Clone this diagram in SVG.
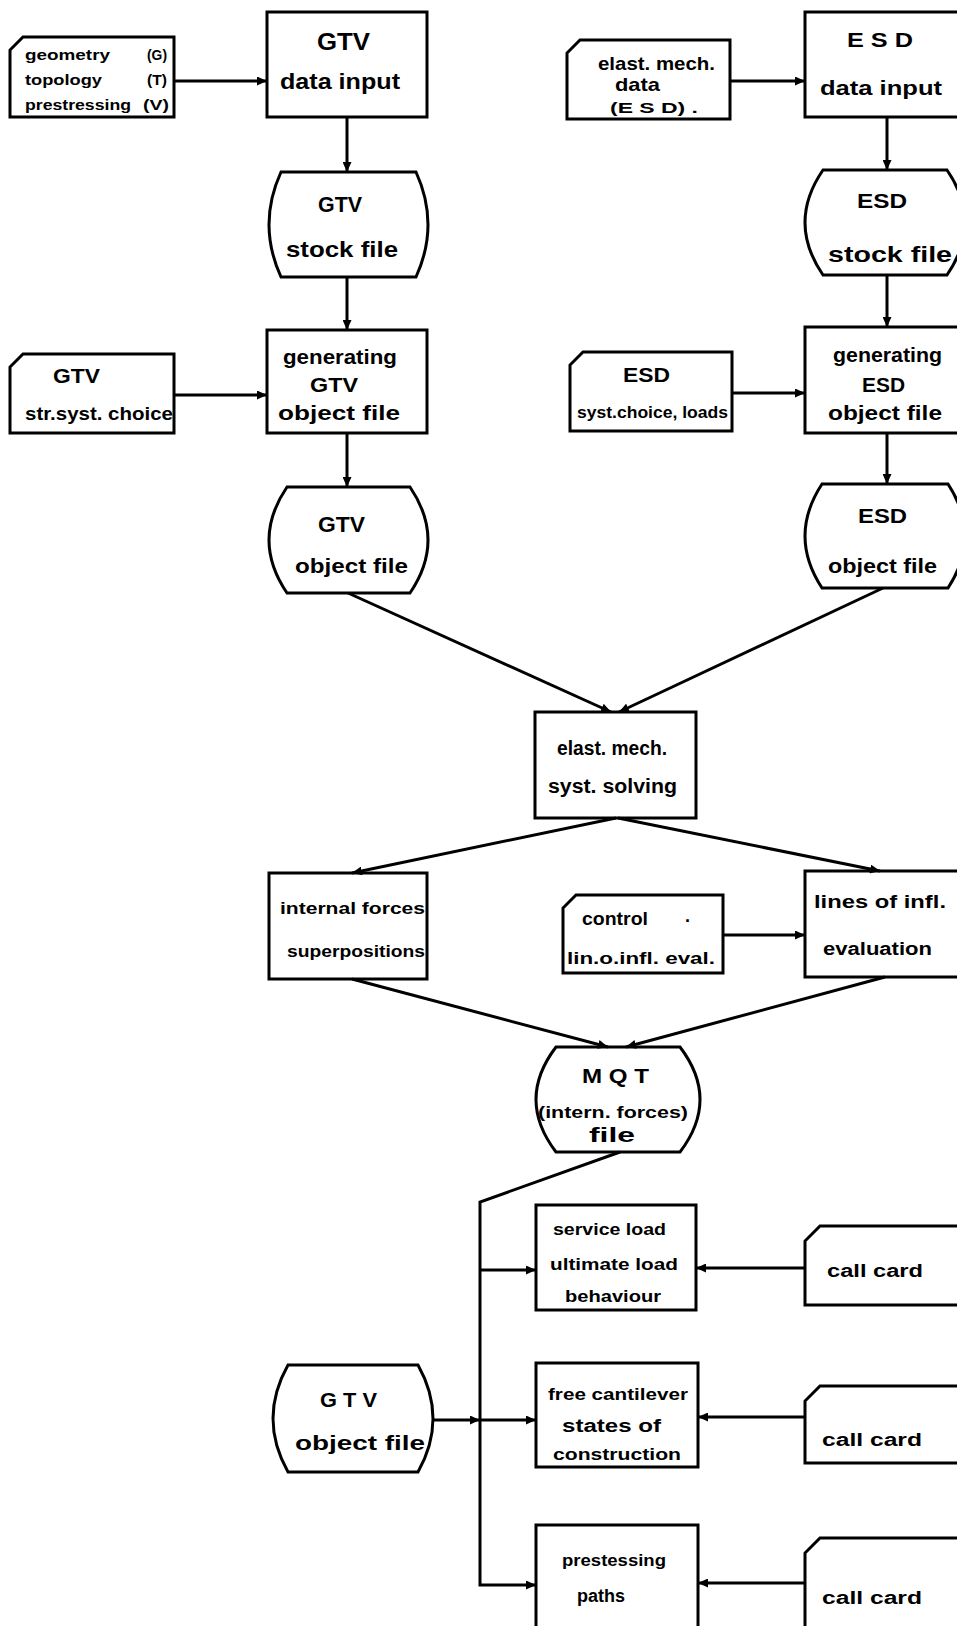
<svg xmlns="http://www.w3.org/2000/svg" width="957" height="1626" viewBox="0 0 957 1626">
<style>
.shape{fill:#fff;stroke:#000;stroke-width:3;stroke-linejoin:miter}
.conn{fill:none;stroke:#000;stroke-width:3}
text{font-family:"Liberation Sans",Arial,sans-serif;font-weight:bold;fill:#000}
</style>
<defs>
<marker id="ah" markerUnits="userSpaceOnUse" markerWidth="11" markerHeight="9" refX="10" refY="4.5" orient="auto">
<path d="M0,0 L10,4.5 L0,9 Z" fill="#000"/>
</marker>
</defs>
<rect width="957" height="1626" fill="#fff"/>

<!-- Left column -->
<g id="gtv-input-card">
<path class="shape" d="M23,37 L174,37 L174,117 L10,117 L10,50 Z"/>
<text x="25" y="60" font-size="15" textLength="85" lengthAdjust="spacingAndGlyphs">geometry</text>
<text x="147" y="60" font-size="15" textLength="20" lengthAdjust="spacingAndGlyphs">(G)</text>
<text x="25" y="85" font-size="15" textLength="77" lengthAdjust="spacingAndGlyphs">topology</text>
<text x="147" y="85" font-size="15" textLength="20" lengthAdjust="spacingAndGlyphs">(T)</text>
<text x="25" y="110" font-size="15" textLength="106" lengthAdjust="spacingAndGlyphs">prestressing</text>
<text x="143" y="110" font-size="15" textLength="26" lengthAdjust="spacingAndGlyphs">(V)</text>
</g>
<g id="gtv-data-input">
<rect class="shape" x="267" y="12" width="160" height="105"/>
<text x="317" y="50" font-size="24" textLength="53" lengthAdjust="spacingAndGlyphs">GTV</text>
<text x="280" y="89" font-size="22" textLength="120" lengthAdjust="spacingAndGlyphs">data input</text>
</g>
<g id="gtv-stock-file">
<path class="shape" d="M281,172 L416,172 Q440,224.5 416,277 L281,277 Q257,224.5 281,172 Z"/>
<text x="318" y="212" font-size="22" textLength="44" lengthAdjust="spacingAndGlyphs">GTV</text>
<text x="286" y="257" font-size="22" textLength="112" lengthAdjust="spacingAndGlyphs">stock file</text>
</g>
<g id="gtv-choice-card">
<path class="shape" d="M23,354 L174,354 L174,433 L10,433 L10,367 Z"/>
<text x="53" y="383" font-size="20" textLength="47" lengthAdjust="spacingAndGlyphs">GTV</text>
<text x="25" y="420" font-size="18" textLength="148" lengthAdjust="spacingAndGlyphs">str.syst. choice</text>
</g>
<g id="gtv-generating">
<rect class="shape" x="267" y="330" width="160" height="103"/>
<text x="283" y="364" font-size="21" textLength="114" lengthAdjust="spacingAndGlyphs">generating</text>
<text x="310" y="392" font-size="21" textLength="48" lengthAdjust="spacingAndGlyphs">GTV</text>
<text x="278" y="420" font-size="21" textLength="122" lengthAdjust="spacingAndGlyphs">object file</text>
</g>
<g id="gtv-object-file">
<path class="shape" d="M287,487 L410,487 Q446,540 410,593 L287,593 Q251,540 287,487 Z"/>
<text x="318" y="532" font-size="22" textLength="47" lengthAdjust="spacingAndGlyphs">GTV</text>
<text x="295" y="573" font-size="21" textLength="113" lengthAdjust="spacingAndGlyphs">object file</text>
</g>

<!-- Right column -->
<g id="esd-input-card">
<path class="shape" d="M580,40 L730,40 L730,119 L567,119 L567,53 Z"/>
<text x="598" y="70" font-size="19" textLength="117" lengthAdjust="spacingAndGlyphs">elast. mech.</text>
<text x="615" y="91" font-size="19" textLength="45" lengthAdjust="spacingAndGlyphs">data</text>
<text x="610" y="113" font-size="15" textLength="88" lengthAdjust="spacingAndGlyphs">(E S D) .</text>
</g>
<g id="esd-data-input">
<rect class="shape" x="805" y="12" width="160" height="105"/>
<text x="847" y="47" font-size="20" textLength="66" lengthAdjust="spacingAndGlyphs">E S D</text>
<text x="820" y="95" font-size="21" textLength="122" lengthAdjust="spacingAndGlyphs">data input</text>
</g>
<g id="esd-stock-file">
<path class="shape" d="M823,170 L947,170 Q983,222.5 947,275 L823,275 Q787,222.5 823,170 Z"/>
<text x="857" y="208" font-size="21" textLength="50" lengthAdjust="spacingAndGlyphs">ESD</text>
<text x="828" y="262" font-size="22" textLength="124" lengthAdjust="spacingAndGlyphs">stock file</text>
</g>
<g id="esd-choice-card">
<path class="shape" d="M583,352 L732,352 L732,431 L570,431 L570,365 Z"/>
<text x="623" y="382" font-size="20" textLength="47" lengthAdjust="spacingAndGlyphs">ESD</text>
<text x="577" y="418" font-size="17" textLength="151" lengthAdjust="spacingAndGlyphs">syst.choice, loads</text>
</g>
<g id="esd-generating">
<rect class="shape" x="805" y="327" width="160" height="106"/>
<text x="833" y="362" font-size="21" textLength="109" lengthAdjust="spacingAndGlyphs">generating</text>
<text x="862" y="392" font-size="21" textLength="43" lengthAdjust="spacingAndGlyphs">ESD</text>
<text x="828" y="420" font-size="21" textLength="114" lengthAdjust="spacingAndGlyphs">object file</text>
</g>
<g id="esd-object-file">
<path class="shape" d="M822,484 L948,484 Q982,536 948,588 L822,588 Q788,536 822,484 Z"/>
<text x="858" y="523" font-size="20" textLength="49" lengthAdjust="spacingAndGlyphs">ESD</text>
<text x="828" y="573" font-size="21" textLength="109" lengthAdjust="spacingAndGlyphs">object file</text>
</g>

<!-- Middle -->
<g id="elast-solving">
<rect class="shape" x="535" y="712" width="161" height="106"/>
<text x="557" y="755" font-size="20" textLength="110" lengthAdjust="spacingAndGlyphs">elast. mech.</text>
<text x="548" y="793" font-size="20" textLength="129" lengthAdjust="spacingAndGlyphs">syst. solving</text>
</g>
<g id="internal-forces">
<rect class="shape" x="269" y="873" width="158" height="106"/>
<text x="280" y="914" font-size="17" textLength="145" lengthAdjust="spacingAndGlyphs">internal forces</text>
<text x="287" y="957" font-size="17" textLength="138" lengthAdjust="spacingAndGlyphs">superpositions</text>
</g>
<g id="control-card">
<path class="shape" d="M576,895 L723,895 L723,973 L563,973 L563,908 Z"/>
<text x="582" y="925" font-size="18" textLength="66" lengthAdjust="spacingAndGlyphs">control</text>
<text x="685" y="922" font-size="18">.</text>
<text x="567" y="964" font-size="16" textLength="148" lengthAdjust="spacingAndGlyphs">lin.o.infl. eval.</text>
</g>
<g id="lines-of-influence">
<rect class="shape" x="805" y="871" width="160" height="106"/>
<text x="814" y="908" font-size="18" textLength="132" lengthAdjust="spacingAndGlyphs">lines of infl.</text>
<text x="823" y="955" font-size="18" textLength="109" lengthAdjust="spacingAndGlyphs">evaluation</text>
</g>
<g id="mqt-file">
<path class="shape" d="M556,1047 L680,1047 Q720,1099.5 680,1152 L556,1152 Q516,1099.5 556,1047 Z"/>
<text x="582" y="1083" font-size="20" textLength="67" lengthAdjust="spacingAndGlyphs">M Q T</text>
<text x="538" y="1118" font-size="17" textLength="150" lengthAdjust="spacingAndGlyphs">(intern. forces)</text>
<text x="589" y="1142" font-size="20" textLength="46" lengthAdjust="spacingAndGlyphs">file</text>
</g>

<!-- Bottom -->
<g id="service-load">
<rect class="shape" x="536" y="1205" width="160" height="105"/>
<text x="553" y="1235" font-size="17" textLength="113" lengthAdjust="spacingAndGlyphs">service load</text>
<text x="550" y="1270" font-size="17" textLength="128" lengthAdjust="spacingAndGlyphs">ultimate load</text>
<text x="565" y="1302" font-size="17" textLength="96" lengthAdjust="spacingAndGlyphs">behaviour</text>
</g>
<g id="call-card-1">
<path class="shape" d="M820,1226 L968,1226 L968,1305 L805,1305 L805,1241 Z"/>
<text x="827" y="1277" font-size="18" textLength="96" lengthAdjust="spacingAndGlyphs">call card</text>
</g>
<g id="gtv-object-file-2">
<path class="shape" d="M288,1365 L418,1365 Q448,1418.5 418,1472 L288,1472 Q258,1418.5 288,1365 Z"/>
<text x="320" y="1407" font-size="20" textLength="57" lengthAdjust="spacingAndGlyphs">G T V</text>
<text x="295" y="1450" font-size="21" textLength="130" lengthAdjust="spacingAndGlyphs">object file</text>
</g>
<g id="free-cantilever">
<rect class="shape" x="536" y="1363" width="162" height="104"/>
<text x="548" y="1400" font-size="17" textLength="140" lengthAdjust="spacingAndGlyphs">free cantilever</text>
<text x="562" y="1432" font-size="18" textLength="99" lengthAdjust="spacingAndGlyphs">states of</text>
<text x="553" y="1460" font-size="17" textLength="128" lengthAdjust="spacingAndGlyphs">construction</text>
</g>
<g id="call-card-2">
<path class="shape" d="M820,1386 L968,1386 L968,1463 L805,1463 L805,1401 Z"/>
<text x="822" y="1446" font-size="18" textLength="100" lengthAdjust="spacingAndGlyphs">call card</text>
</g>
<g id="prestressing-paths">
<rect class="shape" x="536" y="1525" width="162" height="120"/>
<text x="562" y="1566" font-size="17" textLength="104" lengthAdjust="spacingAndGlyphs">prestessing</text>
<text x="577" y="1602" font-size="18" textLength="48" lengthAdjust="spacingAndGlyphs">paths</text>
</g>
<g id="call-card-3">
<path class="shape" d="M820,1538 L968,1538 L968,1640 L805,1640 L805,1553 Z"/>
<text x="822" y="1604" font-size="18" textLength="100" lengthAdjust="spacingAndGlyphs">call card</text>
</g>

<g id="connectors">
<line class="conn" x1="174" y1="81" x2="267" y2="81" marker-end="url(#ah)"/>
<line class="conn" x1="347" y1="117" x2="347" y2="172" marker-end="url(#ah)"/>
<line class="conn" x1="347" y1="277" x2="347" y2="330" marker-end="url(#ah)"/>
<line class="conn" x1="174" y1="395" x2="267" y2="395" marker-end="url(#ah)"/>
<line class="conn" x1="347" y1="433" x2="347" y2="487" marker-end="url(#ah)"/>
<line class="conn" x1="730" y1="81" x2="805" y2="81" marker-end="url(#ah)"/>
<line class="conn" x1="887" y1="117" x2="887" y2="170" marker-end="url(#ah)"/>
<line class="conn" x1="887" y1="275" x2="887" y2="327" marker-end="url(#ah)"/>
<line class="conn" x1="732" y1="393" x2="805" y2="393" marker-end="url(#ah)"/>
<line class="conn" x1="887" y1="433" x2="887" y2="484" marker-end="url(#ah)"/>
<line class="conn" x1="348" y1="593" x2="611" y2="712" marker-end="url(#ah)"/>
<line class="conn" x1="883" y1="588" x2="619" y2="712" marker-end="url(#ah)"/>
<line class="conn" x1="616" y1="818" x2="352" y2="873" marker-end="url(#ah)"/>
<line class="conn" x1="618" y1="818" x2="880" y2="871" marker-end="url(#ah)"/>
<line class="conn" x1="723" y1="935" x2="805" y2="935" marker-end="url(#ah)"/>
<line class="conn" x1="352" y1="979" x2="608" y2="1047" marker-end="url(#ah)"/>
<line class="conn" x1="885" y1="977" x2="626" y2="1047" marker-end="url(#ah)"/>
<path class="conn" d="M620,1152 L480,1202 L480,1585 L536,1585" marker-end="url(#ah)"/>
<line class="conn" x1="480" y1="1270" x2="536" y2="1270" marker-end="url(#ah)"/>
<line class="conn" x1="433" y1="1420" x2="480" y2="1420" marker-end="url(#ah)"/>
<line class="conn" x1="480" y1="1420" x2="536" y2="1420" marker-end="url(#ah)"/>
<line class="conn" x1="805" y1="1268" x2="696" y2="1268" marker-end="url(#ah)"/>
<line class="conn" x1="805" y1="1417" x2="698" y2="1417" marker-end="url(#ah)"/>
<line class="conn" x1="805" y1="1583" x2="698" y2="1583" marker-end="url(#ah)"/>
</g>
</svg>
